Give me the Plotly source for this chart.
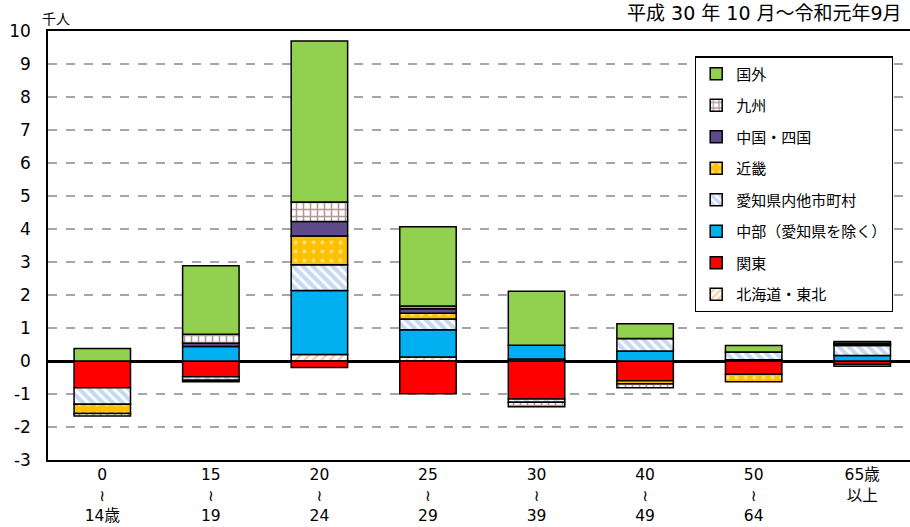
import plotly.graph_objects as go

categories = ["0<br>≀<br>14歳", "15<br>≀<br>19", "20<br>≀<br>24", "25<br>≀<br>29",
              "30<br>≀<br>39", "40<br>≀<br>49", "50<br>≀<br>64", "65歳<br>以上"]

hokkaido_tohoku = [0, 0, 0.20, 0.12, 0.06, 0, 0, 0]
kanto = [-0.81, -0.48, -0.20, -0.99, -1.15, -0.60, -0.40, -0.10]
chubu = [0, 0.44, 1.94, 0.83, 0.42, 0.30, 0.04, 0.17]
aichi_other = [-0.50, -0.10, 0.78, 0.32, -0.10, 0.38, 0.23, 0.30]
kinki = [-0.28, -0.05, 0.87, 0.18, 0, -0.09, -0.23, -0.06]
chugoku_shikoku = [0, 0.10, 0.44, 0.13, 0, 0, 0, 0.03]
kyushu = [-0.08, 0.27, 0.59, 0.09, -0.14, -0.12, 0, 0.04]
abroad = [0.38, 2.08, 4.88, 2.40, 1.63, 0.45, 0.20, 0.05]

y_ticks = list(range(-3, 11))
y_tick_labels = [str(v) for v in y_ticks]

series = [
    ("北海道・東北", hokkaido_tohoku, "white", dict(shape="/", fgcolor="#F79646", size=6, solidity=0.4, fillmode="overlay")),
    ("関東", kanto, "#FF0000", None),
    ("中部（愛知県を除く）", chubu, "#00B0F0", None),
    ("愛知県内他市町村", aichi_other, "white", dict(shape="\\", fgcolor="#8DB4E2", size=7, solidity=0.6, fillmode="overlay")),
    ("近畿", kinki, "#FFC000", dict(shape=".", fgcolor="white", size=9, solidity=0.15, fillmode="overlay")),
    ("中国・四国", chugoku_shikoku, "#5F4B8B", None),
    ("九州", kyushu, "white", dict(shape="+", fgcolor="#6B2E2E", size=7, solidity=0.4, fillmode="overlay")),
    ("国外", abroad, "#92D050", None),
]

fig = go.Figure()
for i, (name, vals, color, pat) in enumerate(series):
    marker = dict(color=color, line=dict(color="black", width=1.5))
    if pat:
        marker["pattern"] = pat
    fig.add_trace(go.Bar(name=name, x=categories, y=vals, marker=marker,
                         width=0.52, legendgroup=f"g{i}", legendrank=100 - i))

cjk = "Noto Sans CJK JP"
mixed = "DejaVu Sans, Noto Sans CJK JP"
fig.update_layout(
    width=910, height=527,
    margin=dict(l=48, r=0, t=30.7, b=67.3),
    barmode="relative",
    plot_bgcolor="white", paper_bgcolor="white",
    font=dict(family=mixed, color="black"),
    showlegend=True,
    legend=dict(
        x=(695 - 48) / 862, y=(459.7 - 56) / 429, xanchor="left", yanchor="top",
        traceorder="grouped", tracegroupgap=9.0,
        bordercolor="black", borderwidth=1.2, bgcolor="white",
        font=dict(size=15, family=cjk),
        itemwidth=30,
    ),
    xaxis=dict(
        type="category", range=[-0.5, 7.44],
        showline=True, linecolor="black", linewidth=1.5, mirror=True,
        tickfont=dict(size=15.5, family=mixed), showgrid=False,
    ),
    yaxis=dict(
        range=[-3, 10], tickmode="array", tickvals=y_ticks, ticktext=y_tick_labels,
        showline=True, linecolor="black", linewidth=1.5,
        showgrid=True, gridcolor="#A6A6A6", griddash="dash", gridwidth=1.5,
        zeroline=True, zerolinecolor="black", zerolinewidth=2.5,
        tickfont=dict(size=17, family=mixed), ticklabelstandoff=12,
    ),
    annotations=[
        dict(text="千人", xref="paper", yref="paper", x=(40 - 48) / 862, y=(459.7 - 18) / 429,
             xanchor="left", yanchor="middle", showarrow=False, font=dict(size=14, family=cjk)),
        dict(text="平成 30 年 10 月～令和元年9月", xref="paper", yref="paper", x=(904 - 48) / 862,
             y=(459.7 - 13) / 429, xanchor="right", yanchor="middle", showarrow=False,
             font=dict(size=19, family=mixed)),
    ],
)

fig.write_html("out.html", config={"displayModeBar": False},
               post_script="document.body.style.margin='0';")
